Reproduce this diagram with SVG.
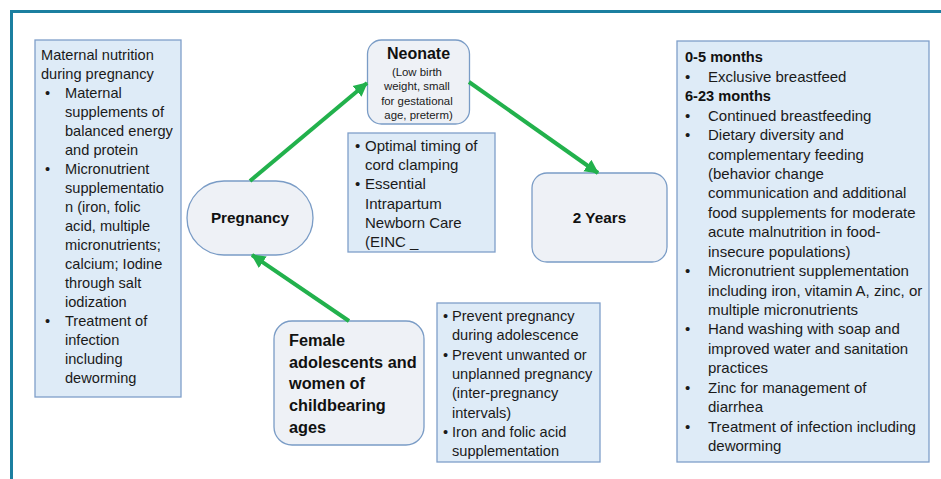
<svg xmlns="http://www.w3.org/2000/svg" width="941" height="479" viewBox="0 0 941 479">
<defs>
<style>
.info{fill:#deebf7;stroke:#7f9fca;stroke-width:1.3}
.node{fill:#eef1f6;stroke:#7a9cc6;stroke-width:1.3}
.t{font-family:"Liberation Sans",Arial,sans-serif;font-size:14.6px;fill:#1a1a1a}
.b{font-family:"Liberation Sans",Arial,sans-serif;font-weight:bold;fill:#111}
.s{font-family:"Liberation Sans",Arial,sans-serif;font-size:11.4px;fill:#1a1a1a}
.arrow{stroke:#22b14c;stroke-width:4;fill:none}
</style>
<marker id="ah" markerWidth="16" markerHeight="16" refX="13" refY="8" orient="auto" markerUnits="userSpaceOnUse">
<path d="M0,1 L14,8 L0,15 Z" fill="#22b14c"/>
</marker>
</defs>
<rect width="941" height="479" fill="#ffffff"/>
<g id="frame">
<line x1="10" y1="11.5" x2="941" y2="11.5" stroke="#1b7fa0" stroke-width="3"/>
<line x1="11.5" y1="10" x2="11.5" y2="479" stroke="#1b7fa0" stroke-width="3"/>
</g>

<g id="maternal">
<rect class="info" x="35" y="40" width="146" height="357"/>
<text class="t">
<tspan x="41" y="60">Maternal nutrition</tspan>
<tspan x="41" y="79">during pregnancy</tspan>
</text>
<text class="t">
<tspan x="45" y="98">•</tspan><tspan x="65" y="98">Maternal</tspan>
<tspan x="65" y="117">supplements of</tspan>
<tspan x="65" y="136">balanced energy</tspan>
<tspan x="65" y="155">and protein</tspan>
<tspan x="45" y="174">•</tspan><tspan x="65" y="174">Micronutrient</tspan>
<tspan x="65" y="193">supplementatio</tspan>
<tspan x="65" y="212">n (iron, folic</tspan>
<tspan x="65" y="231">acid,  multiple</tspan>
<tspan x="65" y="250">micronutrients;</tspan>
<tspan x="65" y="269">calcium; Iodine</tspan>
<tspan x="65" y="288">through salt</tspan>
<tspan x="65" y="307">iodization</tspan>
<tspan x="45" y="326">•</tspan><tspan x="65" y="326">Treatment of</tspan>
<tspan x="65" y="345">infection</tspan>
<tspan x="65" y="364">including</tspan>
<tspan x="65" y="383">deworming</tspan>
</text>
</g>

<g id="neonate">
<rect class="node" x="367.5" y="40" width="102" height="84" rx="14"/>
<text class="b" x="418.5" y="59" font-size="16" text-anchor="middle">Neonate</text>
<text class="s" text-anchor="middle">
<tspan x="418.5" y="75.5">(Low birth</tspan>
<tspan x="418.5" y="90">weight, small</tspan>
<tspan x="418.5" y="104.5">for gestational</tspan>
<tspan x="418.5" y="119">age, preterm)</tspan>
</text>
</g>

<g id="neonate-care">
<rect class="info" x="348" y="133" width="147" height="119"/>
<text class="t" style="font-size:15px">
<tspan x="355" y="150.5">•</tspan><tspan x="365" y="150.5">Optimal timing of</tspan>
<tspan x="365" y="170">cord clamping</tspan>
<tspan x="355" y="189">•</tspan><tspan x="365" y="189">Essential</tspan>
<tspan x="365" y="208.5">Intrapartum</tspan>
<tspan x="365" y="228">Newborn Care</tspan>
<tspan x="365" y="247">(EINC _</tspan>
</text>
</g>

<g id="pregnancy">
<rect class="node" x="187" y="181" width="126" height="74" rx="37"/>
<text class="b" x="250" y="223" font-size="15.3" text-anchor="middle">Pregnancy</text>
</g>

<g id="two-years">
<rect class="node" x="532" y="173" width="135" height="89" rx="15"/>
<text class="b" x="599.5" y="223" font-size="15.3" text-anchor="middle">2 Years</text>
</g>

<g id="female">
<rect class="node" x="274" y="321" width="150" height="124" rx="18"/>
<text class="b" font-size="16.3">
<tspan x="289" y="346">Female</tspan>
<tspan x="289" y="367.7">adolescents and</tspan>
<tspan x="289" y="389.3">women of</tspan>
<tspan x="289" y="411">childbearing</tspan>
<tspan x="289" y="432.7">ages</tspan>
</text>
</g>

<g id="adolescent-care">
<rect class="info" x="437" y="303" width="163" height="159"/>
<text class="t" style="font-size:14.6px">
<tspan x="443" y="321">•</tspan><tspan x="452" y="321">Prevent pregnancy</tspan>
<tspan x="452" y="340.3">during adolescence</tspan>
<tspan x="443" y="359.6">•</tspan><tspan x="452" y="359.6">Prevent unwanted or</tspan>
<tspan x="452" y="379">unplanned pregnancy</tspan>
<tspan x="452" y="398.3">(inter-pregnancy</tspan>
<tspan x="452" y="417.6">intervals)</tspan>
<tspan x="443" y="437">•</tspan><tspan x="452" y="437">Iron and folic acid</tspan>
<tspan x="452" y="456.3">supplementation</tspan>
</text>
</g>

<g id="child-care">
<rect class="info" x="677" y="41" width="252" height="421"/>
<text class="b" font-size="14.6">
<tspan x="685" y="62">0-5 months</tspan>
<tspan x="685" y="101">6-23 months</tspan>
</text>
<text class="t" style="font-size:15px">
<tspan x="685" y="81.5">•</tspan><tspan x="708" y="81.5">Exclusive breastfeed</tspan>
<tspan x="685" y="120.5">•</tspan><tspan x="708" y="120.5">Continued breastfeeding</tspan>
<tspan x="685" y="140">•</tspan><tspan x="708" y="140">Dietary diversity and</tspan>
<tspan x="708" y="159.5">complementary feeding</tspan>
<tspan x="708" y="178.8">(behavior change</tspan>
<tspan x="708" y="198.3">communication and additional</tspan>
<tspan x="708" y="217.7">food supplements for moderate</tspan>
<tspan x="708" y="237.2">acute malnutrition in food-</tspan>
<tspan x="708" y="256.6">insecure populations)</tspan>
<tspan x="685" y="276">•</tspan><tspan x="708" y="276">Micronutrient supplementation</tspan>
<tspan x="708" y="295.5">including iron, vitamin A, zinc, or</tspan>
<tspan x="708" y="315">multiple micronutrients</tspan>
<tspan x="685" y="334.4">•</tspan><tspan x="708" y="334.4">Hand washing with soap and</tspan>
<tspan x="708" y="353.8">improved water and sanitation</tspan>
<tspan x="708" y="373.3">practices</tspan>
<tspan x="685" y="392.7">•</tspan><tspan x="708" y="392.7">Zinc for management of</tspan>
<tspan x="708" y="412.2">diarrhea</tspan>
<tspan x="685" y="431.6">•</tspan><tspan x="708" y="431.6">Treatment of infection including</tspan>
<tspan x="708" y="451">deworming</tspan>
</text>
</g>

<g id="connectors">
<line class="arrow" x1="250" y1="181" x2="367" y2="83" marker-end="url(#ah)"/>
<line class="arrow" x1="469" y1="82" x2="598" y2="173" marker-end="url(#ah)"/>
<line class="arrow" x1="349" y1="321" x2="252" y2="255" marker-end="url(#ah)"/>
</g>
</svg>
